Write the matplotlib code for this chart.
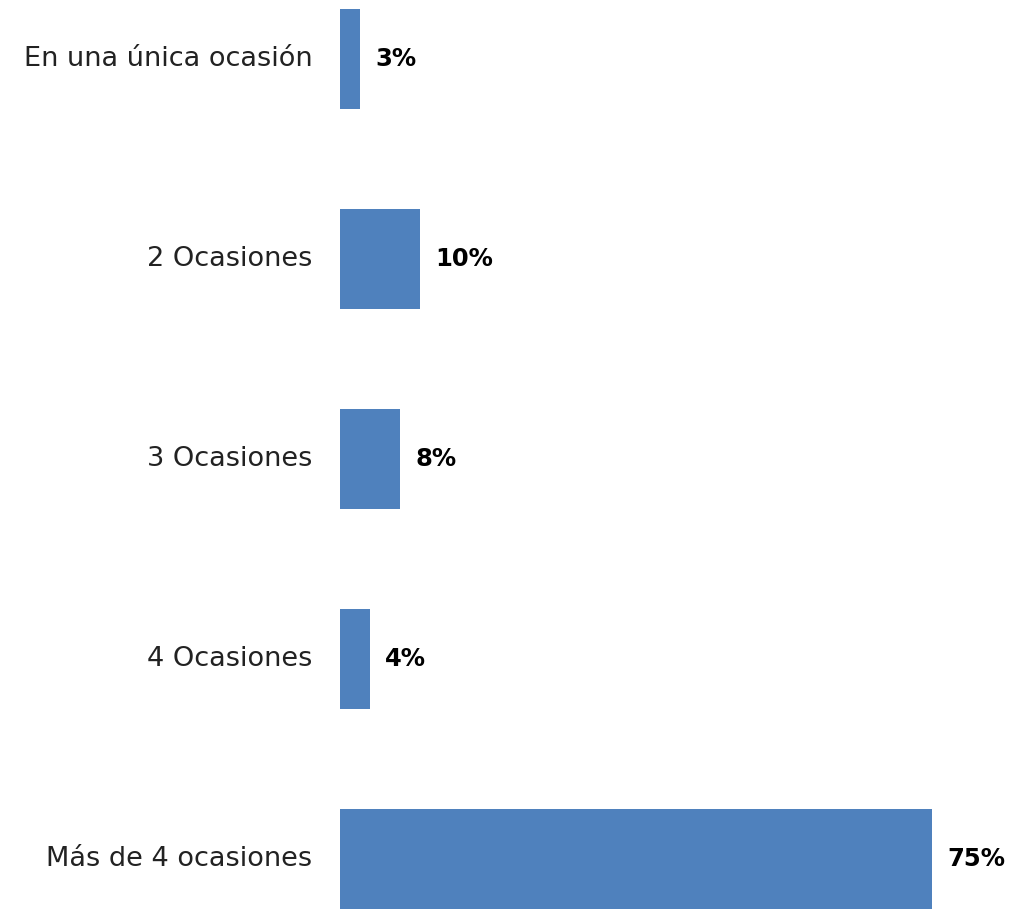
import matplotlib
matplotlib.use("Agg")
import matplotlib.pyplot as plt

# data
categories = ["En una única ocasión", "2 Ocasiones", "3 Ocasiones",
              "4 Ocasiones", "Más de 4 ocasiones"]
values = [2.5, 10.1, 7.6, 3.8, 75.0]
value_labels = ["3%", "10%", "8%", "4%", "75%"]

bar_color = "#4F81BD"

fig = plt.figure(figsize=(10.15, 9.09), dpi=100)
ax = fig.add_axes([340 / 1015, 0.0, 592 / 1015, 900 / 909])

ypos = list(range(len(categories)))
ax.barh(ypos, values, height=0.5, color=bar_color)
ax.set_xlim(0, 75)
ax.set_ylim(len(categories) - 0.75, -0.25)

for y, v, lab in zip(ypos, values, value_labels):
    ax.annotate(lab, (v, y), xytext=(11, 0), textcoords="offset points",
                ha="left", va="center", fontsize=17.5, fontweight="bold",
                color="black", annotation_clip=False)
    ax.annotate(categories[y], (0, y), xytext=(-20, 0), textcoords="offset points",
                ha="right", va="center", fontsize=19.5, color="#222222",
                annotation_clip=False)

ax.set_xticks([])
ax.set_yticks([])
for s in ax.spines.values():
    s.set_visible(False)

fig.savefig("out.png", dpi=100)
